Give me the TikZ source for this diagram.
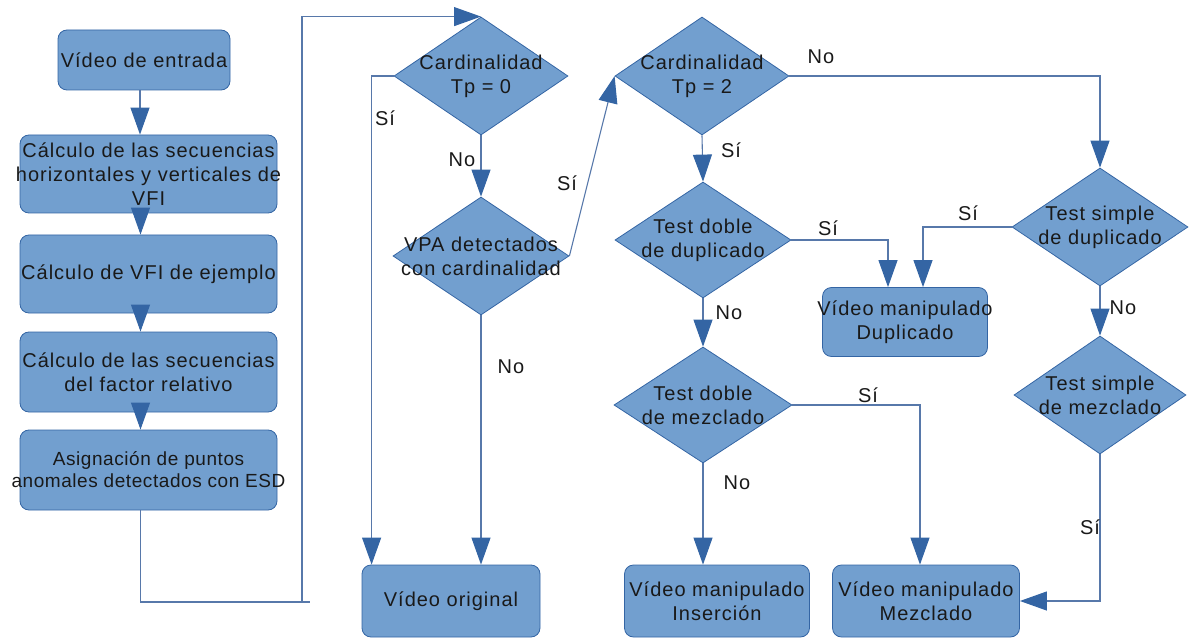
\documentclass[tikz,border=0pt]{standalone}
\usepackage{fontspec}
\setmainfont{Liberation Sans}[LetterSpace=5]
\usetikzlibrary{shapes.geometric,arrows.meta}
\definecolor{fillb}{HTML}{729FCF}
\definecolor{lineb}{HTML}{3465A4}
\definecolor{conn}{HTML}{5778AA}
\newcommand\fsz{\fontsize{20}{24}\selectfont}
\newcommand\fsa{\addfontfeatures{LetterSpace=3}\fontsize{19}{22}\selectfont}
\tikzset{
  box/.style={draw=lineb, fill=fillb, rounded corners=9pt, line width=0.8pt, inner sep=0pt},
  diam/.style={diamond, draw=lineb, fill=fillb, line width=0.8pt, inner sep=0pt},
  txt/.style={align=center, font=\fsz, text=black!90, inner sep=0pt},
  lbl/.style={font=\fsz, text=black!90, inner sep=0pt},
  ln/.style={draw=conn, line width=1.1pt},
  arr/.style={draw=conn, line width=1.1pt, -{Triangle[length=27pt,width=19pt,color=lineb]}}
}
\begin{document}
\begin{tikzpicture}[x=1pt,y=-1pt]
\useasboundingbox (0,0) rectangle (1189,639);
% left column
\node[box, minimum width=172pt, minimum height=60pt] (b1) at (144,60) {};
\node[txt] (b1t) at (b1) {Vídeo de entrada};
\node[box, minimum width=257pt, minimum height=78pt] (b2) at (148.5,174) {};
\node[txt] (b2t) at (b2) {Cálculo de las secuencias\\horizontales y verticales de\\VFI};
\node[box, minimum width=257pt, minimum height=78pt] (b3) at (148.5,274) {};
\node[txt] (b3t) at (b3) {Cálculo de VFI de ejemplo};
\node[box, minimum width=257pt, minimum height=80pt] (b4) at (148.5,372) {};
\node[txt] (b4t) at (b4) {Cálculo de las secuencias\\del factor relativo};
\node[box, minimum width=257pt, minimum height=80pt] (b5) at (148.5,470) {};
\node[txt, font=\fsa] (b5t) at (b5) {Asignación de puntos\\anomales detectados con ESD};
% bottom boxes
\node[box, minimum width=178pt, minimum height=72pt] (vo) at (451,601) {};
\node[txt] (vot) at (vo) {Vídeo original};
\node[box, minimum width=185pt, minimum height=72pt] (ins) at (717,601) {};
\node[txt] (inst) at (ins) {Vídeo manipulado\\Inserción};
\node[box, minimum width=187pt, minimum height=72pt] (mez) at (926,601) {};
\node[txt] (mezt) at (mez) {Vídeo manipulado\\Mezclado};
\node[box, minimum width=165pt, minimum height=69pt] (dup) at (905,322) {};
\node[txt] (dupt) at (dup) {Vídeo manipulado\\Duplicado};
% diamonds
\node[diam, minimum width=174pt, minimum height=118pt] (d1) at (481,76) {};
\node[txt] (d1t) at (d1) {Cardinalidad\\Tp = 0};
\node[diam, minimum width=176pt, minimum height=118pt] (d2) at (481,256) {};
\node[txt] (d2t) at (d2) {VPA detectados\\con cardinalidad};
\node[diam, minimum width=174pt, minimum height=118pt] (d3) at (702,76) {};
\node[txt] (d3t) at (d3) {Cardinalidad\\Tp = 2};
\node[diam, minimum width=176pt, minimum height=116pt] (d4) at (703,240) {};
\node[txt] (d4t) at (d4) {Test doble\\de duplicado};
\node[diam, minimum width=176pt, minimum height=118pt] (dsd) at (1100,227) {};
\node[txt] (dsdt) at (dsd) {Test simple\\de duplicado};
\node[diam, minimum width=178pt, minimum height=116pt] (ddm) at (703,405) {};
\node[txt] (ddmt) at (ddm) {Test doble\\de mezclado};
\node[diam, minimum width=172pt, minimum height=118pt] (dsm) at (1100,395) {};
\node[txt] (dsmt) at (dsm) {Test simple\\de mezclado};
% connectors left column
\draw[arr] ([xshift=-4pt]b1.south) -- ([xshift=-4pt]b1.south |- b2.north);
\draw[arr] ([xshift=-8pt]b2.south) -- ([xshift=-8pt]b3.north);
\draw[arr] ([xshift=-8pt]b3.south) -- ([xshift=-8pt]b4.north);
\draw[arr] ([xshift=-8pt]b4.south) -- ([xshift=-8pt]b5.north);
\coordinate (k1) at (310,602);
\coordinate (k2) at (302,602);
\draw[ln] ([xshift=-8pt]b5.south) |- (k1);
\draw[arr] (k2) |- (d1.north);
% middle
\draw[arr] (d1.west) -| ([xshift=10pt]vo.north west);
\draw[arr] (d1.south) -- (d2.north);
\draw[arr] (d2.south) -- (d2.south |- vo.north);
\draw[arr] (d2.east) -- (d3.west);
\draw[arr] (d3.east) -| (dsd.north);
\draw[arr] (d3.south) -- (d4.north);
\draw[arr] (d4.east) -| ([xshift=-17pt]dup.north);
\draw[arr] (dsd.west) -| ([xshift=18pt]dup.north);
\draw[arr] (dsd.south) -- (dsm.north);
\draw[arr] (d4.south) -- (ddm.north);
\draw[arr] (ddm.east) -| ([xshift=-6pt]mez.north);
\draw[arr] (ddm.south) -- (ddm.south |- ins.north);
\draw[arr] (dsm.south) |- (mez.east);
% labels
\node[lbl] (l1) at (385,118) {Sí};
\node[lbl] (l2) at (462,160) {No};
\node[lbl] (l3) at (567,183) {Sí};
\node[lbl] (l4) at (511,367) {No};
\node[lbl] (l5) at (821,57) {No};
\node[lbl] (l6) at (731,150) {Sí};
\node[lbl] (l7) at (828,228) {Sí};
\node[lbl] (l8) at (968,213) {Sí};
\node[lbl] (l9) at (729,313) {No};
\node[lbl] (l10) at (1123,308) {No};
\node[lbl] (l11) at (868,395) {Sí};
\node[lbl] (l12) at (737,483) {No};
\node[lbl] (l13) at (1090,527) {Sí};
\end{tikzpicture}
\end{document}
